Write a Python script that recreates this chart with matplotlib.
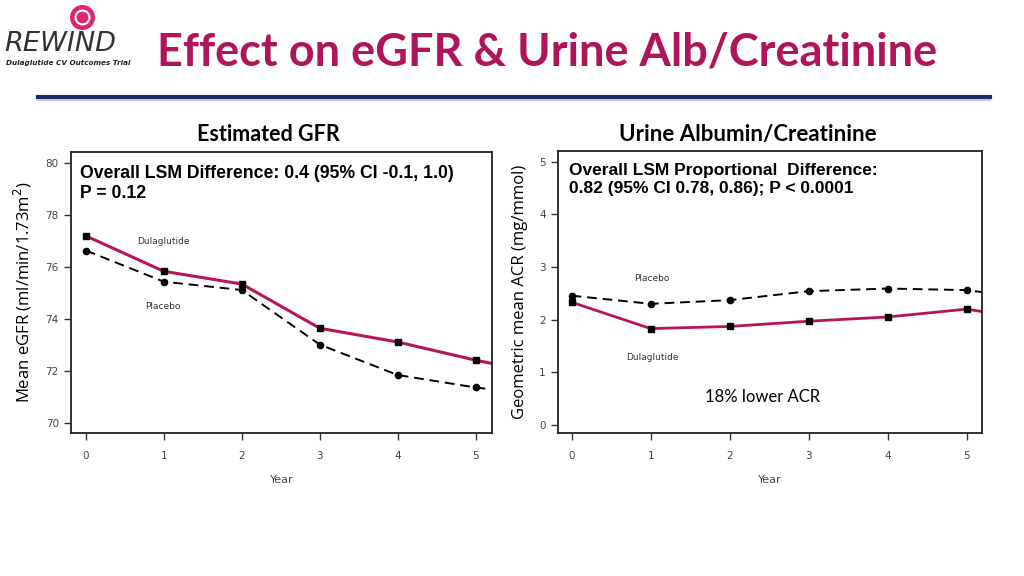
import matplotlib
matplotlib.use("Agg")
import matplotlib.pyplot as plt
import numpy as np

# eGFR data (year 6 only used so the lines run on to the frame edge)
years = [0, 1, 2, 3, 4, 5, 6]
egfr_dula = [77.18, 75.82, 75.33, 73.63, 73.10, 72.40, 71.80]
egfr_plac = [76.62, 75.42, 75.10, 73.00, 71.83, 71.35, 71.00]

# urine albumin / creatinine data
acr_dula = [2.33, 1.83, 1.87, 1.97, 2.05, 2.20, 1.95]
acr_plac = [2.455, 2.30, 2.37, 2.54, 2.59, 2.56, 2.36]

egfr_ticks = [70, 72, 74, 76, 78, 80]
acr_ticks = [0, 1, 2, 3, 4, 5]
year_ticks = [0, 1, 2, 3, 4, 5]

crimson = "#B8145C"
title_col = "#B0145A"
navy = "#1C2A66"

fig = plt.figure(figsize=(10.24, 5.76), dpi=100)

# header
fig.text(0.153, 0.909, "Effect on eGFR & Urine Alb/Creatinine", color=title_col,
         fontsize=32.5, fontweight="bold", family="Lato", va="center", ha="left")
fig.add_artist(plt.Line2D([0.037, 0.967], [0.832, 0.832], color=navy, lw=3))
fig.add_artist(plt.Line2D([0.037, 0.967], [0.826, 0.826], color="#C9CCD8", lw=1.5))

# logo
fig.add_artist(plt.Line2D([0.080], [0.970], marker="o", ms=17, color="#E0266F"))
fig.add_artist(plt.Line2D([0.080], [0.970], marker="o", ms=10, mfc="none",
                          mec="white", mew=1.5))
fig.text(0.004, 0.923, "REWIND", fontsize=19.5, style="italic", family="DejaVu Sans",
         fontweight="light", color="#333333", va="center", ha="left")
fig.text(0.006, 0.891, "Dulaglutide CV Outcomes Trial", fontsize=5.2, style="italic",
         fontweight="bold", color="#222222", va="center", ha="left")


def style_axes(ax, xlim, ylim, yticks):
    ax.set_xlim(*xlim)
    ax.set_ylim(*ylim)
    ax.set_xticks(year_ticks)
    ax.set_yticks(yticks)
    ax.tick_params(direction="out", length=5, width=1, colors="#333333",
                   labelsize=7.5, labelcolor="#444444")
    ax.tick_params(axis="x", pad=8)
    for s in ax.spines.values():
        s.set_linewidth(1.3)
        s.set_color("#222222")
    ax.set_xlabel("Year", fontsize=8, color="#444444", labelpad=10)


# left panel: eGFR
ax1 = fig.add_axes([0.069, 0.2483, 0.4115, 0.4878])
ax1.plot(years, egfr_plac, color="black", lw=1.4, ls=(0, (5, 3)),
         marker="o", ms=4.5, markevery=range(6))
ax1.plot(years, egfr_dula, color=crimson, lw=2.2,
         marker="s", ms=5, mfc="black", mec="black", markevery=range(6))
style_axes(ax1, (-0.196, 5.21), (69.6, 80.41), egfr_ticks)
ax1.set_ylabel("Mean eGFR (ml/min/1.73m$^2$)", fontsize=12, family="Open Sans",
               labelpad=8)
ax1.text(0.99, 76.96, "Dulaglutide", fontsize=6.5, color="#333333", ha="center", va="center")
ax1.text(0.99, 74.46, "Placebo", fontsize=6.5, color="#333333", ha="center", va="center")
ax1.text(0.023, 0.955, "Overall LSM Difference: 0.4 (95% CI -0.1, 1.0)\nP = 0.12",
         transform=ax1.transAxes, fontsize=12.7, fontweight="bold", family="Liberation Sans",
         va="top", ha="left", linespacing=1.25)
fig.text(0.262, 0.766, "Estimated GFR", fontsize=15.5, fontweight="bold", family="Lato",
         ha="center", va="center")

# right panel: ACR
ax2 = fig.add_axes([0.5446, 0.2477, 0.4147, 0.4901])
ax2.plot(years, acr_plac, color="black", lw=1.4, ls=(0, (5, 3)),
         marker="o", ms=4.5, markevery=range(6))
ax2.plot(years, acr_dula, color=crimson, lw=2.0,
         marker="s", ms=5, mfc="black", mec="black", markevery=range(6))
style_axes(ax2, (-0.177, 5.197), (-0.158, 5.2), acr_ticks)
ax2.set_ylabel("Geometric mean ACR (mg/mmol)", fontsize=12, family="Open Sans",
               labelpad=8)
ax2.text(1.02, 2.79, "Placebo", fontsize=6.5, color="#333333", ha="center", va="center")
ax2.text(1.02, 1.29, "Dulaglutide", fontsize=6.5, color="#333333", ha="center", va="center")
ax2.text(2.41, 0.526, "18% lower ACR", fontsize=12, family="Lato", ha="center", va="center")
ax2.text(0.027, 0.958, "Overall LSM Proportional  Difference:\n0.82 (95% CI 0.78, 0.86); P < 0.0001",
         transform=ax2.transAxes, fontsize=12.5, fontweight="bold", family="Liberation Sans",
         va="top", ha="left", linespacing=1.25)
fig.text(0.730, 0.766, "Urine Albumin/Creatinine", fontsize=16, fontweight="bold",
         family="Lato", ha="center", va="center")

fig.savefig("out.png", dpi=100)
